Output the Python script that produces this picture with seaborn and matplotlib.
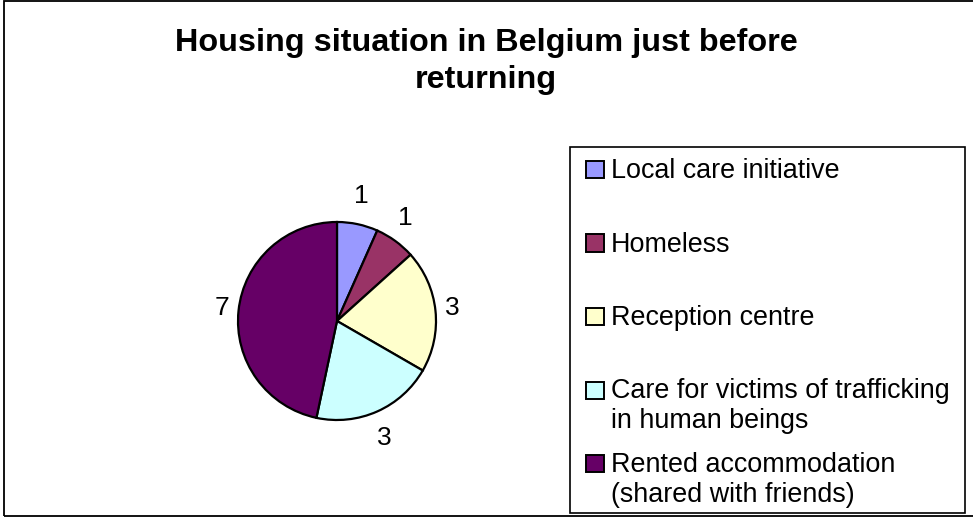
import numpy as np
import matplotlib
matplotlib.use("Agg")
import matplotlib.pyplot as plt
from matplotlib.patches import Rectangle
import seaborn as sns

# Housing situation counts
categories = [
    "Local care initiative",
    "Homeless",
    "Reception centre",
    "Care for victims of trafficking\nin human beings",
    "Rented accommodation\n(shared with friends)",
]
counts = [1, 1, 3, 3, 7]
slice_colors = ["#9999FF", "#993366", "#FFFFCC", "#CCFFFF", "#660066"]
title_lines = ["Housing situation in Belgium just before", "returning"]

sns.set_theme(style="white")
plt.rcParams["font.family"] = ["Liberation Sans", "DejaVu Sans"]

W, H = 973, 518
fig = plt.figure(figsize=(W / 100, H / 100), dpi=100)
fig.patch.set_facecolor("white")


def fx(px):
    return px / W


def fy(py):
    return 1 - py / H


# outer chart frame
fig.add_artist(Rectangle((fx(4), fy(516)), fx(990) - fx(4), fy(1) - fy(516),
                         transform=fig.transFigure, fill=False,
                         edgecolor="black", linewidth=1.3))

# title
for i, line in enumerate(title_lines):
    fig.text(fx(486), fy(51 + 37 * i), line, ha="center", va="baseline",
             fontsize=23.3, fontweight="bold", color="black")

# pie
cx, cy, R = 337, 321, 99
ax = fig.add_axes([fx(cx - R), fy(cy + R), 2 * R / W, 2 * R / H])
palette = sns.color_palette(slice_colors)
wedges, texts = ax.pie(
    counts,
    labels=[str(v) for v in counts],
    colors=palette,
    startangle=90,
    counterclock=False,
    wedgeprops=dict(edgecolor="black", linewidth=1.6),
    textprops=dict(fontsize=19, color="black", ha="center", va="center"),
)
ax.set_xlim(-1, 1)
ax.set_ylim(-1, 1)
ax.set_aspect("equal")
ax.axis("off")

# place value labels just outside each wedge
lab_rx, lab_ry = 1.17, 1.29
for w, t in zip(wedges, texts):
    th = np.deg2rad((w.theta1 + w.theta2) / 2)
    t.set_position((lab_rx * np.cos(th), lab_ry * np.sin(th)))
    t.set_clip_on(False)

# legend
lx0, ly0, lx1, ly1 = 570, 147, 965, 513
fig.add_artist(Rectangle((fx(lx0), fy(ly1)), fx(lx1) - fx(lx0), fy(ly0) - fy(ly1),
                         transform=fig.transFigure, fill=False,
                         edgecolor="black", linewidth=1.2))
base0, step, line_gap = 178, 73.5, 29.5
for i, (lab, col) in enumerate(zip(categories, palette)):
    b = base0 + step * i
    fig.add_artist(Rectangle((fx(586), fy(b)), 18 / W, 17 / H,
                             transform=fig.transFigure, facecolor=col,
                             edgecolor="black", linewidth=1.4))
    for j, part in enumerate(lab.split("\n")):
        fig.text(fx(611), fy(b + line_gap * j), part, ha="left",
                 va="baseline", fontsize=19.4, color="black")

fig.savefig("out.png", dpi=100, facecolor="white")
